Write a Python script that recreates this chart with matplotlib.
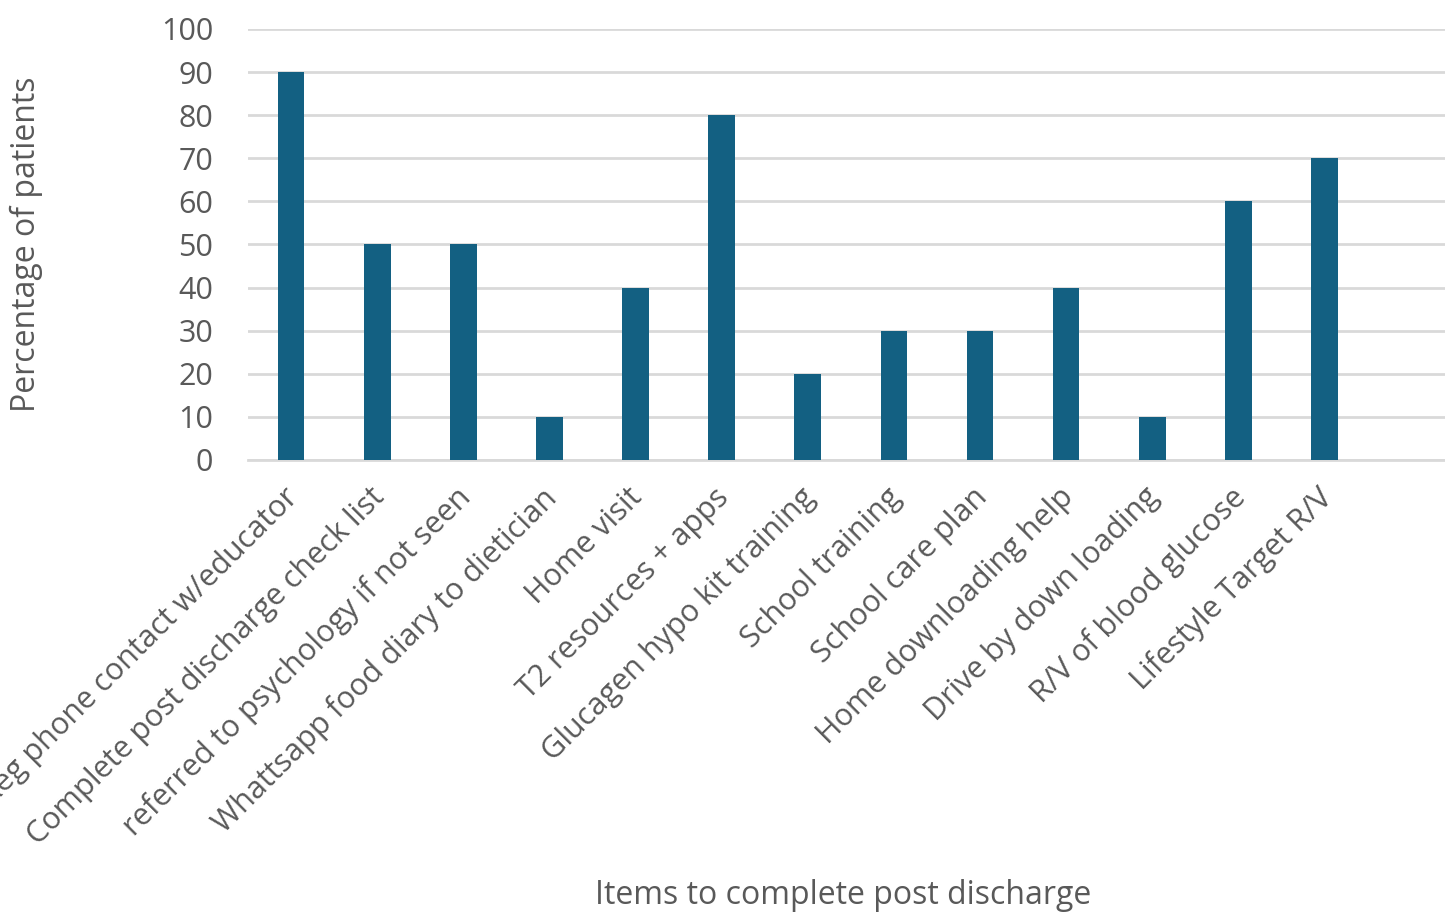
import matplotlib
matplotlib.use("Agg")
import matplotlib.pyplot as plt
from matplotlib.transforms import ScaledTranslation

categories = [
    "Reg phone contact w/educator",
    "Complete post discharge check list",
    "referred to psychology if not seen",
    "Whattsapp food diary to dietician",
    "Home visit",
    "T2 resources + apps",
    "Glucagen hypo kit training",
    "School training",
    "School care plan",
    "Home downloading help",
    "Drive by down loading",
    "R/V of blood glucose",
    "Lifestyle Target R/V",
]
values = [90, 50, 50, 10, 40, 80, 20, 30, 30, 40, 10, 60, 70]
yticks = [0, 10, 20, 30, 40, 50, 60, 70, 80, 90, 100]

plt.rcParams['font.family'] = ['Open Sans', 'DejaVu Sans']
txt = '#595959'
fs = 22
fig = plt.figure(figsize=(14.45, 9.16), dpi=100)
ax = fig.add_axes([248/1445, 1-460/916, 1-248/1445, (460-29)/916])
x = list(range(len(categories)))
ax.bar(x, values, width=0.31, color='#136082', zorder=3)
ax.set_xlim(-0.5, 13.4)
ax.set_ylim(0, 100)
ax.set_yticks(yticks)
ax.set_yticklabels([str(t) for t in yticks], fontsize=fs, color=txt)
ax.yaxis.grid(True, color='#d9d9d9', linewidth=2, zorder=0)
for s in ['top', 'right', 'left']:
    ax.spines[s].set_visible(False)
ax.spines['bottom'].set_color('#d9d9d9')
ax.spines['bottom'].set_linewidth(2)
ax.tick_params(axis='y', length=0, pad=25)
ax.tick_params(axis='x', length=0, pad=16)
ax.set_xticks(x)
ax.set_xticklabels(categories, rotation=45, ha='right', va='top',
                   rotation_mode='anchor', fontsize=fs, color=txt)
off = ScaledTranslation(-8/100, 0, fig.dpi_scale_trans)
for lab in ax.get_xticklabels():
    lab.set_transform(lab.get_transform() + off)
ax.set_ylabel("Percentage of patients", fontsize=23, color=txt)
ax.yaxis.set_label_coords(-205/1197, 0.5)
fig.text(843/1445, 1-895/916, "Items to complete post discharge", fontsize=23,
         color=txt, ha='center', va='center')
fig.savefig("out.png", dpi=100)
